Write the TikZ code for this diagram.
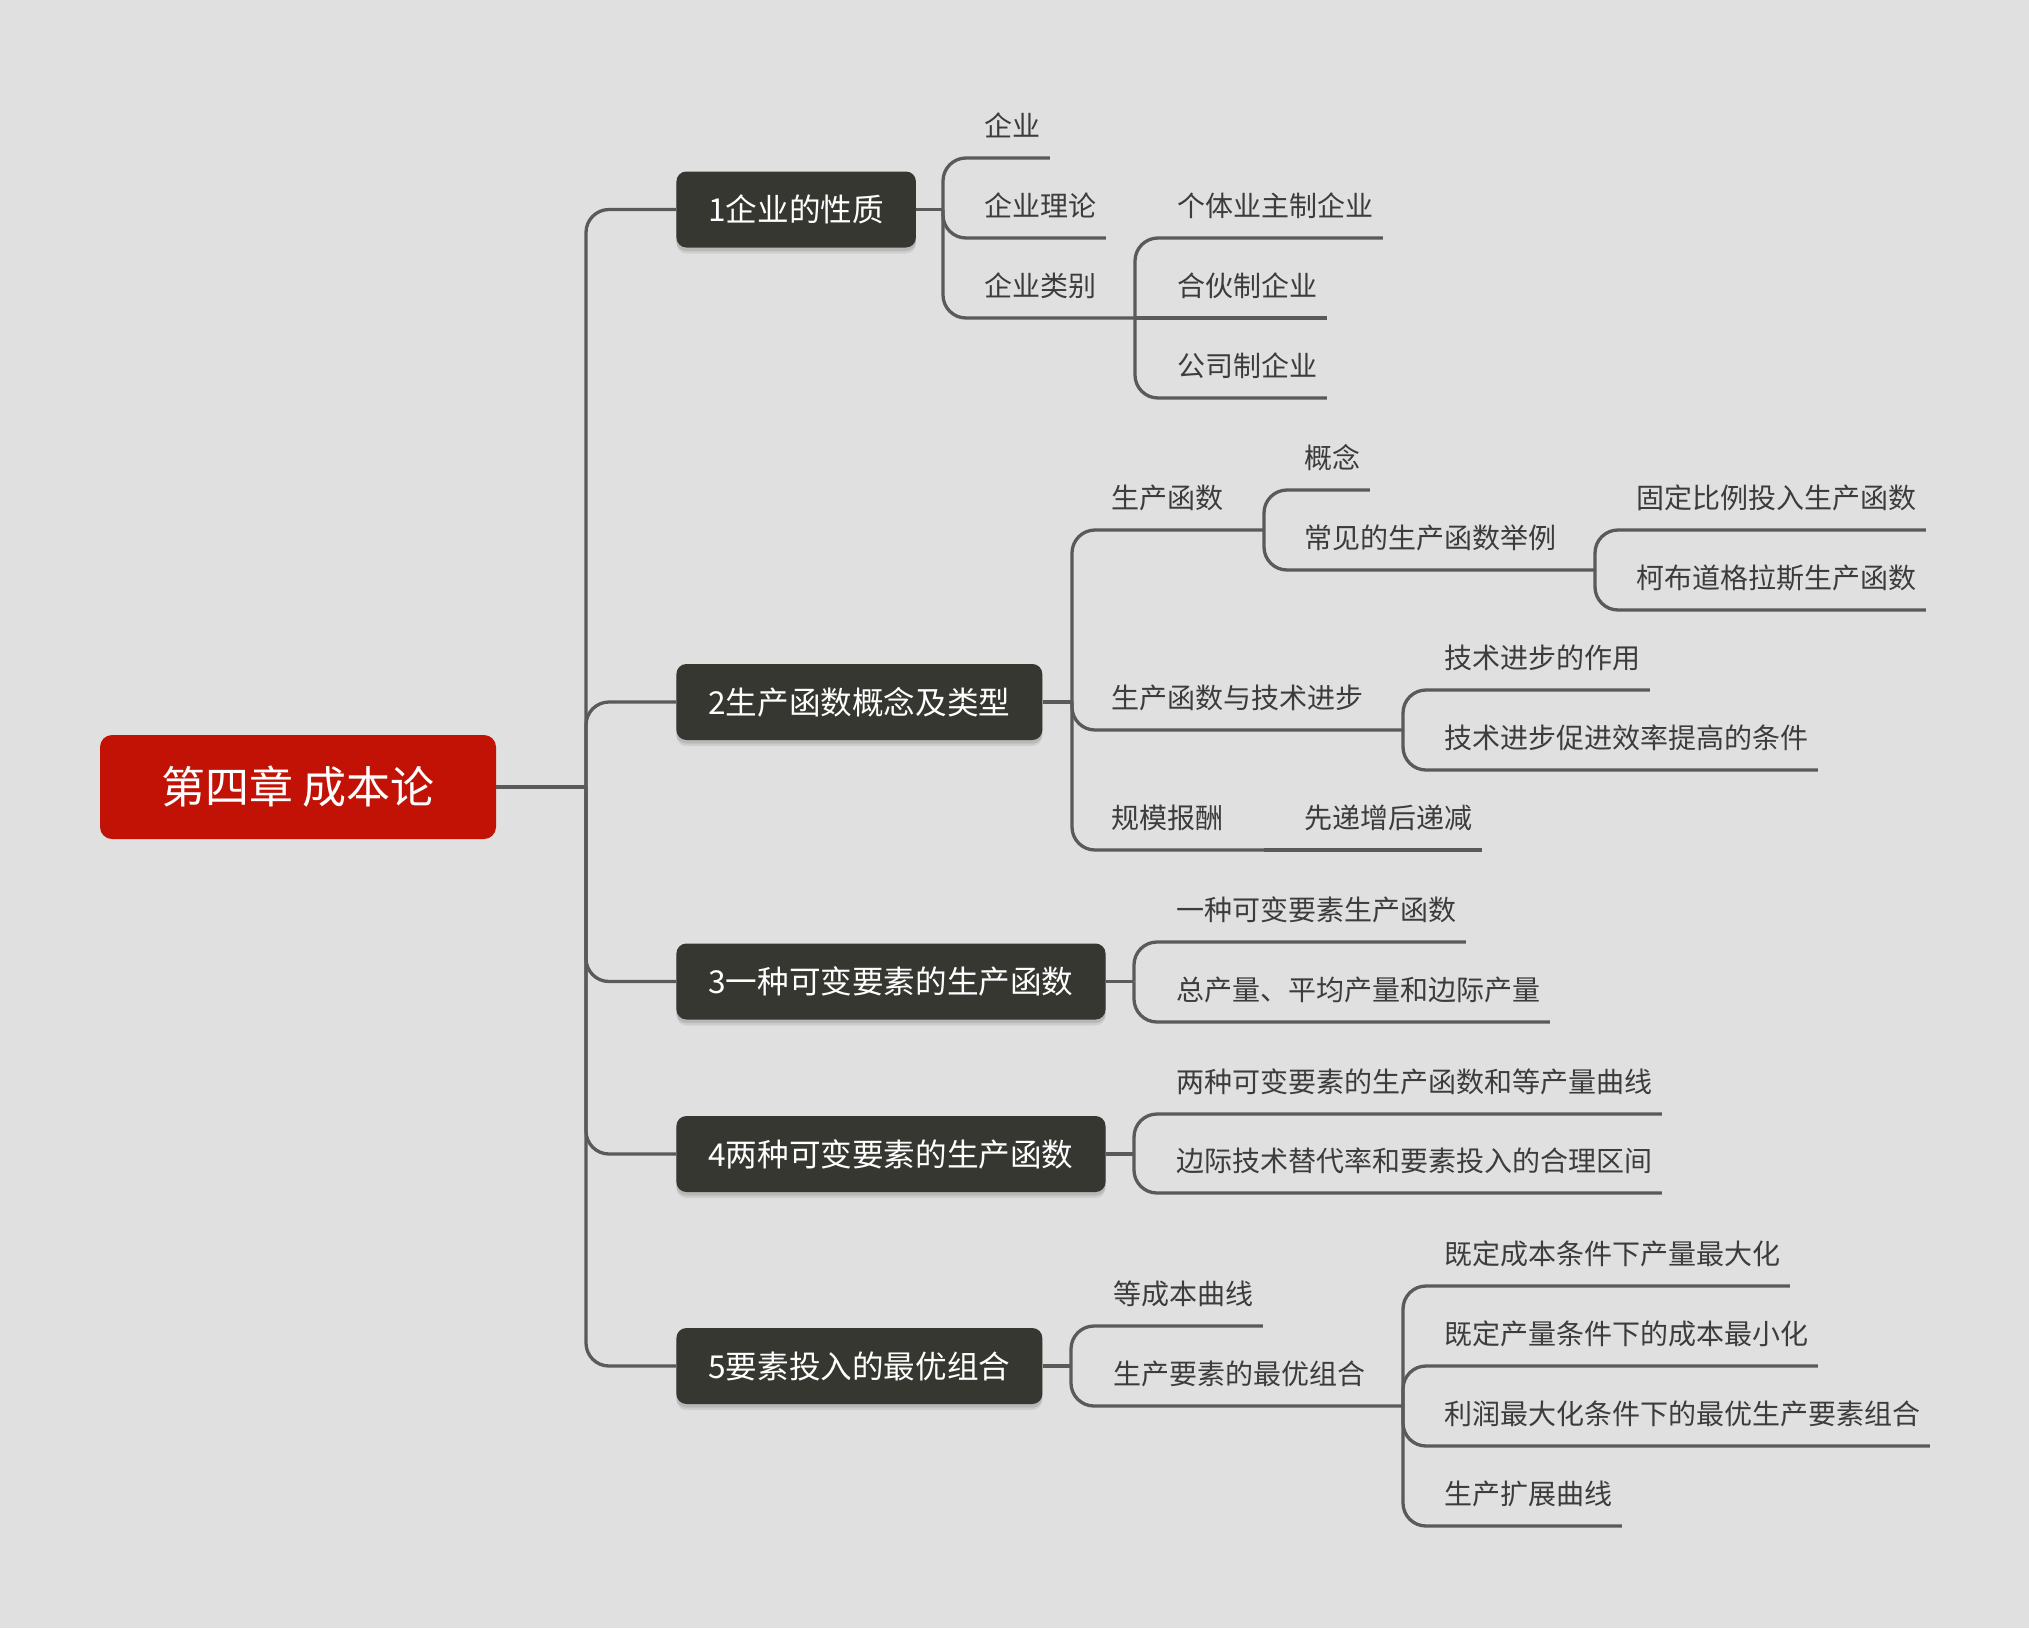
\documentclass[tikz,border=0pt]{standalone}
\usepackage{fontspec}
\newfontfamily\cjk{Noto Sans CJK SC}
\usetikzlibrary{shadows}
\definecolor{bg}{HTML}{E0E0E0}
\definecolor{rootred}{HTML}{C11205}
\definecolor{boxdark}{HTML}{373732}
\definecolor{linegray}{HTML}{5A5A5A}
\definecolor{leaftext}{HTML}{3C3C3C}
\begin{document}
\begin{tikzpicture}[x=0.5pt,y=-0.5pt,
  conn/.style={draw=linegray, line width=1.65pt, rounded corners=11.5pt},
  rootbox/.style={fill=rootred, rounded corners=6pt, text=white,
    font=\cjk\fontsize{22pt}{26pt}\selectfont, minimum width=198pt,
    minimum height=52pt, inner sep=0pt},
  boxshadow/.style={drop shadow={shadow xshift=0pt, shadow yshift=-3pt, opacity=0.08, fill=black},
    drop shadow={shadow xshift=0pt, shadow yshift=-1.8pt, opacity=0.10, fill=black}},
  topicbox/.style={fill=boxdark, rounded corners=5pt, text=white,
    font=\cjk\fontsize{15.8pt}{19pt}\selectfont, minimum height=38pt,
    inner xsep=16pt, inner ysep=0pt, anchor=west, boxshadow},
  leaf/.style={text=leaftext, font=\cjk\fontsize{14pt}{17pt}\selectfont,
    inner xsep=4.5pt, inner ysep=10.8pt, text depth=0pt, anchor=south west},
]
\useasboundingbox (0,0) rectangle (2029,1628);
\fill[bg] (0,0) rectangle (2029,1628);

% root
\node[rootbox] (root) at (298,787) {第四章 成本论};

% main topics
\node[topicbox] (n1) at (676,209.5) {1企业的性质};
\node[topicbox] (n2) at (676,702) {2生产函数概念及类型};
\node[topicbox] (n3) at (676,981.5) {3一种可变要素的生产函数};
\node[topicbox] (n4) at (676,1154) {4两种可变要素的生产函数};
\node[topicbox] (n5) at (676,1366) {5要素投入的最优组合};

% junction coordinates
\coordinate (j0) at (586,787);
\coordinate (j1) at (943,209.5);
\coordinate (j13) at (1135,318);
\coordinate (j2) at (1072,702);
\coordinate (j21) at (1264,530);
\coordinate (j212) at (1595,570);
\coordinate (j22) at (1403,730);
\coordinate (j23) at (1264,850);
\coordinate (j3) at (1134,981.5);
\coordinate (j4) at (1134,1154);
\coordinate (j5) at (1071,1366);
\coordinate (j52) at (1403,1406);

% leaves, branch 1
\node[leaf] (a1) at (975,158) {企业};
\node[leaf] (a2) at (975,238) {企业理论};
\node[leaf] (a3) at (975,318) {企业类别};
\node[leaf] (a31) at (1168,238) {个体业主制企业};
\node[leaf] (a32) at (1168,318) {合伙制企业};
\node[leaf] (a33) at (1168,398) {公司制企业};

% branch 2
\node[leaf] (b1) at (1102,530) {生产函数};
\node[leaf] (b11) at (1295,490) {概念};
\node[leaf] (b12) at (1295,570) {常见的生产函数举例};
\node[leaf] (b121) at (1627,530) {固定比例投入生产函数};
\node[leaf] (b122) at (1627,610) {柯布道格拉斯生产函数};
\node[leaf] (b2) at (1102,730) {生产函数与技术进步};
\node[leaf] (b21) at (1435,690) {技术进步的作用};
\node[leaf] (b22) at (1435,770) {技术进步促进效率提高的条件};
\node[leaf] (b3) at (1102,850) {规模报酬};
\node[leaf] (b31) at (1295,850) {先递增后递减};

% branch 3
\node[leaf] (c1) at (1167,942) {一种可变要素生产函数};
\node[leaf] (c2) at (1167,1022) {总产量、平均产量和边际产量};

% branch 4
\node[leaf] (d1) at (1167,1114) {两种可变要素的生产函数和等产量曲线};
\node[leaf] (d2) at (1167,1193) {边际技术替代率和要素投入的合理区间};

% branch 5
\node[leaf] (e1) at (1104,1326) {等成本曲线};
\node[leaf] (e2) at (1104,1406) {生产要素的最优组合};
\node[leaf] (e21) at (1435,1286) {既定成本条件下产量最大化};
\node[leaf] (e22) at (1435,1366) {既定产量条件下的成本最小化};
\node[leaf] (e23) at (1435,1446) {利润最大化条件下的最优生产要素组合};
\node[leaf] (e24) at (1435,1526) {生产扩展曲线};

% connectors: root and trunk
\draw[conn] (root.east) -- (j0);
\draw[conn] (j0) |- (n1.west);
\draw[conn] (j0) |- (n2.west);
\draw[conn] (j0) |- (n3.west);
\draw[conn] (j0) |- (n4.west);
\draw[conn] (j0) |- (n5.west);

% branch 1
\draw[conn] (n1.east) -- (j1);
\draw[conn] (j1) |- (a1.south east);
\draw[conn] (j1) |- (a2.south east);
\draw[conn] (j1) |- (j13);
\draw[conn] (j13) |- (a31.south east);
\draw[conn] (j13) -- (a32.south east);
\draw[conn] (j13) |- (a33.south east);

% branch 2
\draw[conn] (n2.east) -- (j2);
\draw[conn] (j2) |- (j21);
\draw[conn] (j21) |- (b11.south east);
\draw[conn] (j21) |- (j212);
\draw[conn] (j212) |- (b121.south east);
\draw[conn] (j212) |- (b122.south east);
\draw[conn] (j2) |- (j22);
\draw[conn] (j22) |- (b21.south east);
\draw[conn] (j22) |- (b22.south east);
\draw[conn] (j2) |- (j23);
\draw[conn] (j23) -- (b31.south east);

% branch 3
\draw[conn] (n3.east) -- (j3);
\draw[conn] (j3) |- (c1.south east);
\draw[conn] (j3) |- (c2.south east);

% branch 4
\draw[conn] (n4.east) -- (j4);
\draw[conn] (j4) |- (d1.south east);
\draw[conn] (j4) |- (d2.south east);

% branch 5
\draw[conn] (n5.east) -- (j5);
\draw[conn] (j5) |- (e1.south east);
\draw[conn] (j5) |- (j52);
\draw[conn] (j52) |- (e21.south east);
\draw[conn] (j52) |- (e22.south east);
\draw[conn] (j52) |- (e23.south east);
\draw[conn] (j52) |- (e24.south east);
\end{tikzpicture}
\end{document}
